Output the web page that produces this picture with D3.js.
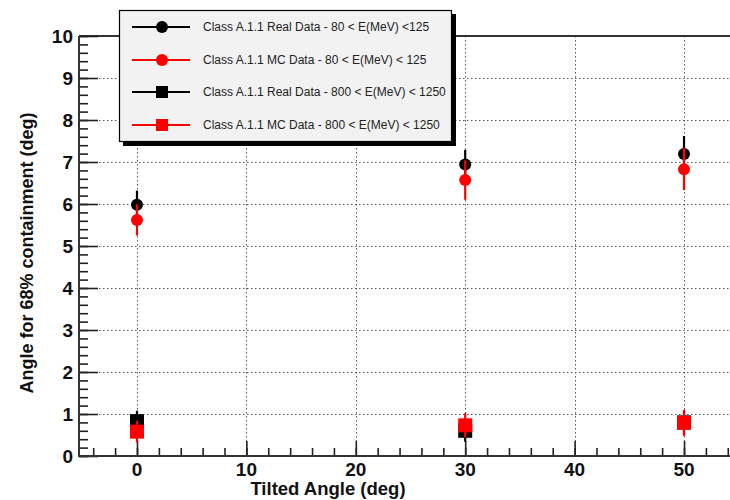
<!DOCTYPE html>
<html>
<head>
<meta charset="utf-8">
<script src="https://cdn.jsdelivr.net/npm/d3@7"></script>
<style>
  html, body { margin: 0; padding: 0; background: #fff; }
  svg { display: block; font-family: "Liberation Sans", Arial, Helvetica, sans-serif; }
</style>
</head>
<body>
<svg id="chart" width="730" height="500"></svg>
<script>
// Tilt angles (deg) at which the containment angle was measured
const angles = [0, 30, 50];

// 68% containment angle (deg) and its uncertainty, per sample
const realLow = [5.98, 6.94, 7.19];
const realLowErr = [0.34, 0.35, 0.43];
const mcLow = [5.62, 6.57, 6.83];
const mcLowErr = [0.37, 0.47, 0.50];
const realHigh = [0.83, 0.60, 0.80];
const realHighErr = [0.25, 0.26, 0.28];
const mcHigh = [0.58, 0.73, 0.79];
const mcHighErr = [0.26, 0.29, 0.31];

const seriesNames = [
  "Class A.1.1 Real Data - 80 < E(MeV) <125",
  "Class A.1.1 MC Data - 80 < E(MeV) < 125",
  "Class A.1.1 Real Data - 800 < E(MeV) < 1250",
  "Class A.1.1 MC Data - 800 < E(MeV) < 1250"
];
const seriesColors = ["#000000", "#ff0000", "#000000", "#ff0000"];
const seriesShapes = ["circle", "circle", "square", "square"];

const xMajorTicks = [0, 10, 20, 30, 40, 50];
const yMajorTicks = [0, 1, 2, 3, 4, 5, 6, 7, 8, 9, 10];

const series = [
  { vals: realLow, errs: realLowErr },
  { vals: mcLow, errs: mcLowErr },
  { vals: realHigh, errs: realHighErr },
  { vals: mcHigh, errs: mcHighErr }
].map((s, i) => ({
  name: seriesNames[i], color: seriesColors[i], shape: seriesShapes[i],
  points: angles.map((a, j) => ({ x: a, y: s.vals[j], e: s.errs[j] }))
}));

const svg = d3.select("#chart");
const plotLeft = 79, plotTop = 36, plotBottom = 456, plotRight = 742;

const x = d3.scaleLinear().domain([-5.3, 55.3]).range([plotLeft, plotRight]);
const y = d3.scaleLinear().domain([0, 10]).range([plotBottom, plotTop]);

// Grid lines (dotted)
const grid = svg.append("g").attr("stroke", "#555").attr("stroke-width", 1)
  .attr("stroke-dasharray", "1.5,2.5");
grid.selectAll("line.h").data(yMajorTicks.filter(v => v > 0 && v < 10)).join("line")
  .attr("class", "h")
  .attr("x1", plotLeft).attr("x2", plotRight)
  .attr("y1", d => y(d) + 0.5).attr("y2", d => y(d) + 0.5);
grid.selectAll("line.v").data(xMajorTicks).join("line")
  .attr("class", "v")
  .attr("x1", d => Math.round(x(d)) + 0.5).attr("x2", d => Math.round(x(d)) + 0.5)
  .attr("y1", plotTop).attr("y2", plotBottom);

// Frame top line
svg.append("line").attr("x1", plotLeft).attr("x2", plotRight).attr("y1", plotTop).attr("y2", plotTop)
  .attr("stroke", "#333").attr("stroke-width", 2);

// Y axis with inward ticks
const yAxis = d3.axisRight(y).tickValues(yMajorTicks).tickSize(19).tickFormat("");
const yAxisMinor = d3.axisRight(y).tickValues(d3.range(0, 10.001, 0.2)).tickSize(9).tickFormat("");
[yAxisMinor, yAxis].forEach(ax => {
  const g = svg.append("g").attr("transform", `translate(${plotLeft},0)`).call(ax);
  g.select(".domain").remove();
  g.selectAll("line").attr("stroke", "#222").attr("stroke-width", 1.6);
});
svg.append("line").attr("x1", plotLeft).attr("x2", plotLeft).attr("y1", plotTop).attr("y2", plotBottom + 1)
  .attr("stroke", "#333").attr("stroke-width", 2);

// Y tick labels
svg.append("g").selectAll("text").data(yMajorTicks).join("text")
  .attr("x", 73).attr("y", d => y(d) + 7)
  .attr("text-anchor", "end").attr("font-size", 19).attr("font-weight", "bold")
  .attr("fill", "#111").text(d => d);

// X axis with inward ticks
const xAxis = d3.axisTop(x).tickValues(xMajorTicks).tickSize(15).tickFormat("");
const xAxisMinor = d3.axisTop(x).tickValues(d3.range(-4, 55, 2)).tickSize(8).tickFormat("");
[xAxisMinor, xAxis].forEach(ax => {
  const g = svg.append("g").attr("transform", `translate(0,${plotBottom})`).call(ax);
  g.select(".domain").remove();
  g.selectAll("line").attr("stroke", "#222").attr("stroke-width", 1.6);
});
svg.append("line").attr("x1", plotLeft).attr("x2", plotRight).attr("y1", plotBottom).attr("y2", plotBottom)
  .attr("stroke", "#333").attr("stroke-width", 2);

// X tick labels
svg.append("g").selectAll("text").data(xMajorTicks).join("text")
  .attr("x", d => x(d)).attr("y", 476)
  .attr("text-anchor", "middle").attr("font-size", 19).attr("font-weight", "bold")
  .attr("fill", "#111").text(d => d);

// Axis titles
svg.append("text").attr("x", 328).attr("y", 495).attr("text-anchor", "middle")
  .attr("font-size", 18.5).attr("font-weight", "bold").attr("fill", "#111")
  .text("Tilted Angle (deg)");
svg.append("text").attr("transform", "translate(33,253) rotate(-90)")
  .attr("text-anchor", "middle").attr("font-size", 18).attr("font-weight", "bold")
  .attr("fill", "#111").text("Angle for 68% containment (deg)");

// Marker helper
function drawMarker(g, shape, color, cx, cy, size) {
  if (shape === "circle") {
    g.append("circle").attr("cx", cx).attr("cy", cy).attr("r", size / 2).attr("fill", color);
  } else {
    g.append("rect").attr("x", cx - size / 2).attr("y", cy - size / 2)
      .attr("width", size).attr("height", size).attr("fill", color);
  }
}

// Data points with error bars
const pts = svg.append("g");
series.forEach(s => {
  const g = pts.append("g");
  s.points.forEach(p => {
    g.append("line")
      .attr("x1", x(p.x)).attr("x2", x(p.x))
      .attr("y1", y(p.y - p.e)).attr("y2", y(p.y + p.e))
      .attr("stroke", s.color).attr("stroke-width", 2.2);
    drawMarker(g, s.shape, s.color, x(p.x), y(p.y), s.shape === "circle" ? 12 : 14);
  });
});

// Legend box with shadow
const lg = svg.append("g");
lg.append("rect").attr("x", 123).attr("y", 14).attr("width", 333).attr("height", 132).attr("fill", "#000");
lg.append("rect").attr("x", 119.5).attr("y", 10.5).attr("width", 332).attr("height", 131)
  .attr("fill", "#f2f2f2").attr("stroke", "#000").attr("stroke-width", 1.2);
const rowY = [27, 60, 92, 125];
series.forEach((s, i) => {
  const ry = rowY[i];
  lg.append("line").attr("x1", 132).attr("x2", 190).attr("y1", ry).attr("y2", ry)
    .attr("stroke", s.color).attr("stroke-width", 2.2);
  drawMarker(lg, s.shape, s.color, 162, ry, 12);
  lg.append("text").attr("x", 203).attr("y", ry + 4).attr("font-size", 12)
    .attr("fill", "#222").text(s.name);
});
</script>
</body>
</html>
